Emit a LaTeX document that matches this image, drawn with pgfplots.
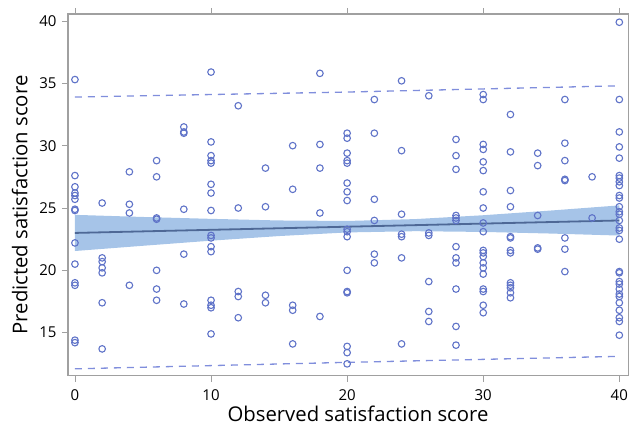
\documentclass[border=0pt]{standalone}
\usepackage{fontspec}
\setmainfont{Open Sans}
\usepackage{pgfplots}
\pgfplotsset{compat=1.18}
\definecolor{ptc}{RGB}{95,115,200}
\definecolor{linec}{RGB}{78,104,150}
\definecolor{bandc}{RGB}{166,196,232}
\definecolor{dashc}{RGB}{128,142,220}
\definecolor{framec}{RGB}{160,160,160}
\begin{document}
\begin{tikzpicture}[x=1pt,y=1pt]
\useasboundingbox (0,0) rectangle (629,428);
\begin{axis}[
  at={(68pt,52.3pt)}, anchor=south west,
  scale only axis, width=560.3pt, height=361.7pt,
  xmin=-0.51, xmax=40.66, ymin=11.55, ymax=40.56,
  xtick={0,10,20,30,40}, ytick={15,20,25,30,35,40},
  tick align=outside, major tick length=6pt,
  axis line style={draw=framec, line width=1.3pt},
  tick style={draw=framec, line width=1pt},
  every tick/.style={draw=framec},
  ticklabel style={font=\fontsize{15}{17}\selectfont},
  xticklabel style={yshift=-4pt},
  yticklabel style={xshift=-2pt},
  /pgf/number format/assume math mode=true,
  xlabel={Observed satisfaction score},
  ylabel={Predicted satisfaction score},
  label style={font=\fontsize{20.3}{24}\selectfont},
  xlabel style={at={(axis description cs:0.5176,-0.127)}, anchor=base},
  ylabel style={at={(axis description cs:-0.0726,0.472)}, anchor=base},
  clip=false,
]
% confidence band
\addplot[fill=bandc, draw=none, forget plot] coordinates {
 (0,24.45) (5,24.28) (10,24.13) (15,24.00) (20,23.96) (25,24.11) (30,24.42) (35,24.80) (40,25.21)
 (40,22.79) (35,22.95) (30,23.08) (25,23.14) (20,23.04) (15,22.75) (10,22.38) (5,21.97) (0,21.55)
} -- cycle;
% fit line
\addplot[linec, line width=1.8pt] coordinates {(0,23.0) (40,24.0)};
% prediction limits
\addplot[dashc, line width=1.3pt, dash pattern=on 7pt off 6pt] coordinates {(0,33.9) (20,34.3) (40,34.8)};
\addplot[dashc, line width=1.3pt, dash pattern=on 7pt off 6pt] coordinates {(0,12.1) (20,12.62) (40,13.1)};
% observations
\addplot[only marks, mark=o, mark size=3.3pt, mark options={draw=ptc, line width=1.1pt}] table {
x y
0 35.3
0 27.6
0 26.7
0 26.2
0 26.0
0 25.7
0 24.9
0 24.8
0 22.2
0 20.5
0 19.0
0 18.8
0 14.4
0 14.2
2 25.4
2 21.0
2 20.7
2 20.2
2 19.8
2 17.4
2 13.7
4 27.9
4 25.3
4 24.6
4 18.8
6 28.8
6 27.5
6 24.2
6 24.1
6 20.0
6 18.5
6 17.6
8 31.5
8 31.1
8 31.0
8 24.9
8 21.3
8 17.3
10 35.9
10 30.3
10 29.2
10 28.8
10 28.6
10 26.9
10 26.2
10 24.8
10 22.8
10 22.6
10 21.9
10 21.5
10 17.6
10 17.2
10 17.0
10 14.9
12 33.2
12 25.0
12 18.3
12 17.9
12 16.2
14 28.2
14 25.1
14 18.0
14 17.4
16 30.0
16 26.5
16 17.2
16 16.8
16 14.1
18 35.8
18 30.1
18 28.2
18 24.6
18 16.3
20 31.0
20 30.6
20 29.4
20 28.8
20 28.6
20 27.0
20 26.3
20 25.6
20 23.3
20 23.1
20 22.7
20 20.0
20 18.3
20 18.2
20 13.9
20 13.4
20 12.5
22 33.7
22 31.0
22 25.7
22 24.0
22 21.3
22 20.6
24 35.2
24 29.6
24 24.5
24 22.9
24 22.7
24 21.0
24 14.1
26 34.0
26 23.0
26 22.8
26 19.1
26 16.7
26 15.9
28 30.5
28 29.2
28 28.1
28 24.4
28 24.2
28 24.0
28 21.9
28 21.0
28 20.6
28 18.5
28 15.5
28 14.0
30 34.1
30 33.7
30 30.1
30 29.7
30 28.7
30 28.0
30 26.3
30 25.0
30 23.8
30 23.1
30 21.6
30 21.4
30 21.1
30 20.6
30 20.2
30 19.7
30 18.5
30 18.3
30 17.2
30 16.6
32 32.5
32 29.5
32 26.4
32 25.1
32 22.7
32 22.6
32 21.6
32 21.4
32 19.0
32 18.8
32 18.6
32 18.2
32 17.8
34 29.4
34 28.4
34 24.4
34 21.8
34 21.7
36 33.7
36 30.2
36 28.8
36 27.3
36 27.2
36 22.6
36 21.7
36 19.9
38 27.5
38 24.2
40 39.9
40 33.7
40 31.1
40 29.9
40 29.0
40 27.6
40 27.4
40 27.1
40 26.8
40 26.0
40 25.8
40 25.1
40 24.7
40 24.5
40 24.0
40 23.4
40 23.2
40 22.5
40 19.9
40 19.8
40 19.1
40 18.9
40 18.5
40 18.1
40 17.9
40 17.4
40 16.8
40 16.2
40 15.9
40 14.8
};
\end{axis}
\end{tikzpicture}
\end{document}
